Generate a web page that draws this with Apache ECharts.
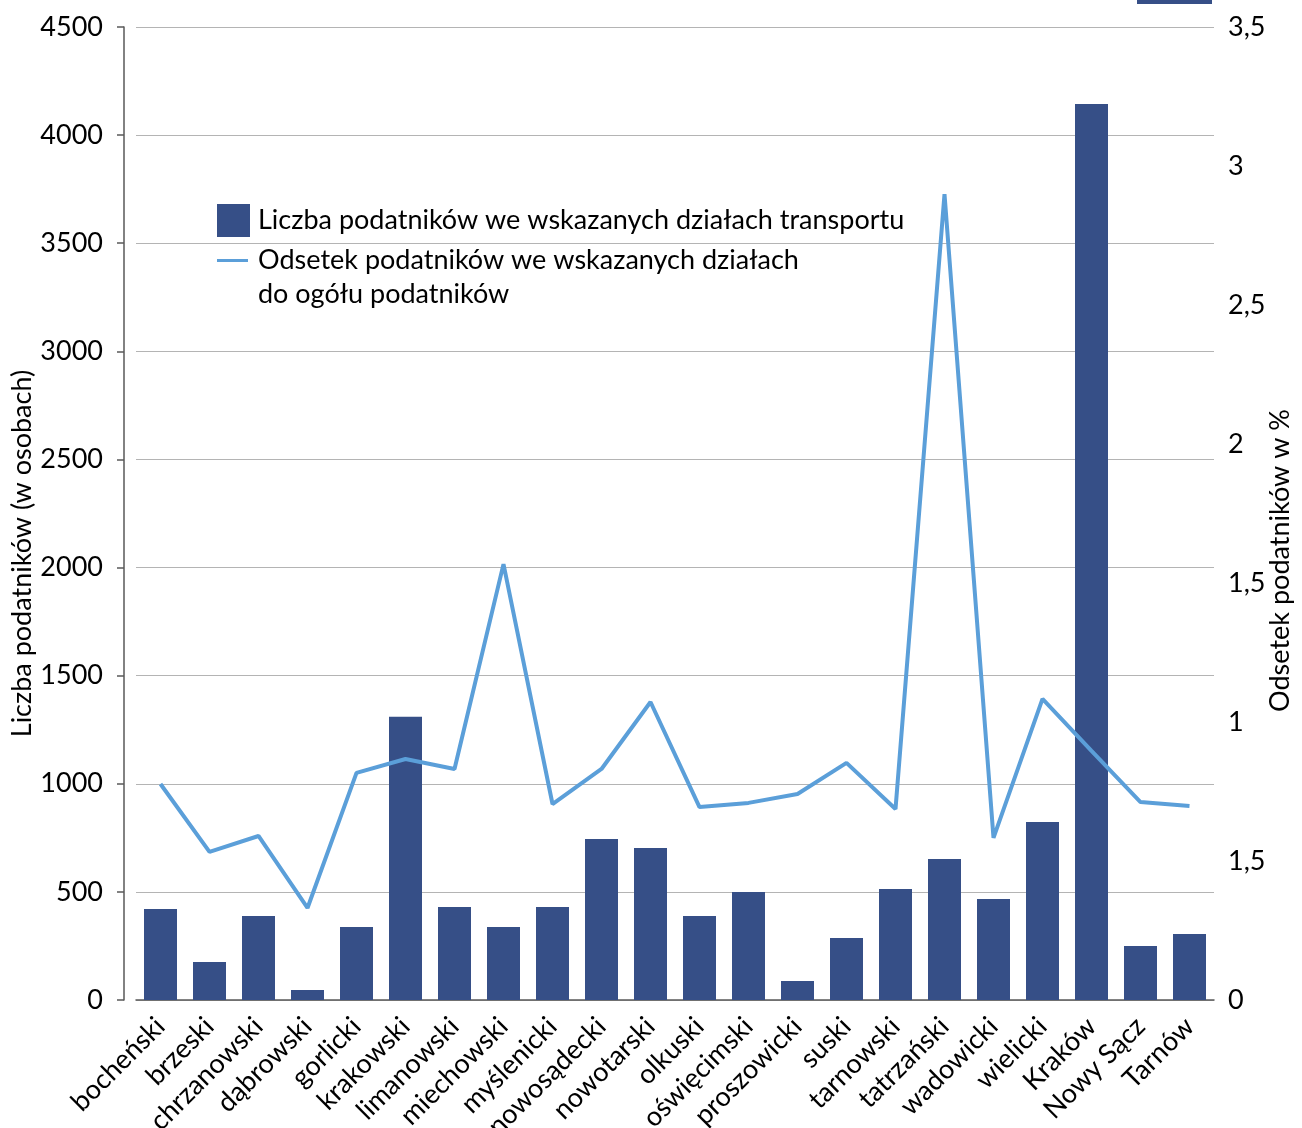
<!DOCTYPE html>
<html>
<head>
<meta charset="utf-8">
<script src="https://cdn.jsdelivr.net/npm/echarts@6/dist/echarts.min.js"></script>
<style>
html,body{margin:0;padding:0;background:#fff;}
#c{width:1302px;height:1128px;}
</style>
</head>
<body>
<div id="c"></div>
<script>
const categories = ['bocheński','brzeski','chrzanowski','dąbrowski','gorlicki','krakowski','limanowski','miechowski','myślenicki','nowosądecki','nowotarski','olkuski','oświęcimski','proszowicki','suski','tarnowski','tatrzański','wadowicki','wielicki','Kraków','Nowy Sącz','Tarnów'];
const countValues = [421, 176, 388, 46, 338, 1310, 430, 338, 430, 745, 703, 388, 500, 88, 287, 513, 652, 467, 823, 4144, 250, 305];
const shareValues = [0.777, 0.533, 0.590, 0.331, 0.817, 0.867, 0.831, 1.568, 0.705, 0.831, 1.072, 0.694, 0.709, 0.741, 0.853, 0.687, 2.899, 0.583, 1.083, 0.896, 0.712, 0.698];
const rightTickLabels = ['0','1,5','1','1,5','2','2,5','3','3,5'];
const barName = 'Liczba podatników we wskazanych działach transportu';
const lineName = 'Odsetek podatników we wskazanych działach\ndo ogółu podatników';
const lineNameParts = lineName.split('\n');

const FONT = 'Lato';
const FS = 27;
const BAR = '#364F87';
const LINE = '#5B9FD9';

const chart = echarts.init(document.getElementById('c'), null, {renderer:'canvas'});
chart.setOption({
  animation: false,
  textStyle: {fontFamily: FONT},
  grid: {left: 136, right: 88, top: 27, bottom: 128, containLabel: false, outerBoundsMode: 'none'},
  legend: [
    {
      data: [{name: barName, icon: 'rect'}],
      left: 217, top: 204, padding: 0,
      itemWidth: 33, itemHeight: 33,
      textStyle: {fontFamily: FONT, fontSize: FS, color: '#000', padding: [0,0,0,3]},
      selectedMode: false
    },
    {
      data: [{name: lineName, icon: 'rect'}],
      left: 217, top: 243, padding: 0,
      itemWidth: 31, itemHeight: 3,
      formatter: function () { return lineNameParts[0]; },
      textStyle: {fontFamily: FONT, fontSize: FS, color: '#000', lineHeight: 35, padding: [0,0,0,5]},
      selectedMode: false
    }
  ],
  xAxis: {
    type: 'category',
    data: categories,
    boundaryGap: true,
    axisLine: {show: true, lineStyle: {color: '#595959', width: 1.5}},
    axisTick: {show: false},
    axisLabel: {interval: 0, rotate: 45, fontFamily: FONT, fontSize: FS, color: '#000', margin: 22}
  },
  yAxis: [
    {
      type: 'value', min: 0, max: 4500, interval: 500,
      offset: 12,
      name: 'Liczba podatników (w osobach)',
      nameLocation: 'middle', nameRotate: 90, nameGap: 88, nameMoveOverlap: false,
      nameTextStyle: {fontFamily: FONT, fontSize: FS, color: '#000', padding: [0, 80, 0, 0]},
      axisLine: {show: true, lineStyle: {color: '#595959', width: 1.5}},
      axisTick: {show: true, length: 7, lineStyle: {color: '#595959', width: 1.5}},
      axisLabel: {fontFamily: FONT, fontSize: FS, color: '#000', margin: 21,
        formatter: function (v) { return String(v); }},
      splitLine: {show: true, lineStyle: {color: '#B4B4B4', width: 1.2}}
    },
    {
      type: 'value', min: 0, max: 3.5, interval: 0.5,
      position: 'right', offset: 6,
      name: 'Odsetek podatników w %',
      nameLocation: 'middle', nameRotate: 90, nameGap: 47, nameMoveOverlap: false,
      nameTextStyle: {fontFamily: FONT, fontSize: FS, color: '#000', padding: [0, 94, 0, 0]},
      axisLine: {show: false},
      axisTick: {show: false},
      axisLabel: {fontFamily: FONT, fontSize: FS, color: '#000', margin: 8,
        formatter: function (v, i) { return rightTickLabels[i]; }},
      splitLine: {show: false}
    }
  ],
  graphic: [
    {type: 'rect', left: 1137, top: 0, shape: {width: 75, height: 4}, style: {fill: BAR}, silent: true},
    {type: 'text', left: 258, top: 281, silent: true,
      style: {text: lineNameParts[1], font: FS + 'px ' + FONT, fill: '#000'}}
  ],
  series: [
    {
      name: barName, type: 'bar', data: countValues, barWidth: 33,
      itemStyle: {color: BAR}, yAxisIndex: 0, z: 2
    },
    {
      name: lineName, type: 'line', data: shareValues, yAxisIndex: 1,
      symbol: 'none', showSymbol: false,
      lineStyle: {color: LINE, width: 4}, itemStyle: {color: LINE}, z: 3
    }
  ]
});
</script>
</body>
</html>
